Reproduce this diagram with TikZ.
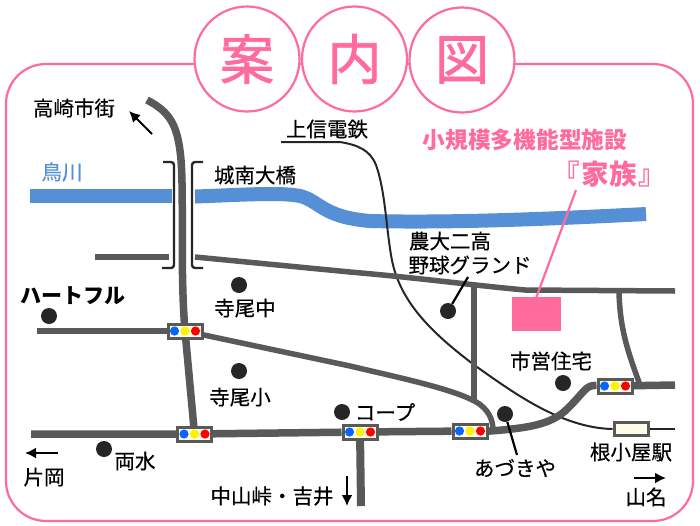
\documentclass[tikz,border=0pt]{standalone}
\usepackage{fontspec}
\setmainfont{Noto Sans CJK JP}
\newfontfamily\medf[FakeBold=0.4]{Noto Sans CJK JP}
\newfontfamily\titlef[FakeBold=1.4]{Noto Sans CJK JP}
\usetikzlibrary{arrows.meta,backgrounds}
\definecolor{pinkc}{HTML}{FF6B9D}
\definecolor{roadc}{HTML}{595959}
\definecolor{riverc}{HTML}{558FD6}
\definecolor{dotc}{HTML}{262626}
\definecolor{ivoryc}{HTML}{FFFDE8}
\tikzset{
 titlec/.style={circle,draw=pinkc,line width=2.2pt,fill=white,minimum size=105pt,inner sep=0pt,text=pinkc,font=\titlef\fontsize{54}{54}\selectfont},
 lab/.style={inner sep=0pt,text=black,font=\medf\fontsize{20.5}{20.5}\selectfont},
 road/.style={draw=roadc,line width=7.5pt,line join=round},
 sroad/.style={draw=roadc,line width=5.5pt,line join=round},
 river/.style={draw=riverc,line width=14pt},
 rail/.style={draw=dotc,line width=2pt},
 brk/.style={draw=dotc,line width=2.4pt,rounded corners=3pt},
 dotn/.style={circle,fill=dotc,minimum size=16pt,inner sep=0pt},
 sign/.style={draw=roadc,line width=3pt,fill=ivoryc,minimum width=34pt,minimum height=14pt,inner sep=0pt},
 lead/.style={draw=black,line width=2.2pt},
 arr/.style={draw=black,line width=2pt,-{Latex[length=11pt,width=11pt]}},
}
\newcommand{\lamps}[1]{%
 \fill[fill={rgb,255:red,10;green,100;blue,255}] ([xshift=-10.5pt]#1.center) circle (4.6pt);
 \fill[yellow] (#1.center) circle (4.6pt);
 \fill[red] ([xshift=10.5pt]#1.center) circle (4.6pt);}
\begin{document}
\begin{tikzpicture}[x=1pt,y=-1pt]
\useasboundingbox (0,0) rectangle (700,525);
% frame
\draw[pinkc,line width=2.2pt,rounded corners=40pt] (6,64) rectangle (693,521);
\node[titlec] (t1) at (247,59) {案};
\node[titlec] (t2) at (354.5,59) {内};
\node[titlec] (t3) at (462,60) {図};
% signals
\node[sign] (s1) at (185,331) {};
\node[sign] (s2) at (194.5,434) {};
\node[sign] (s3) at (360,432) {};
\node[sign] (s4) at (470,431) {};
\node[sign] (s5) at (615,386) {};
\node[draw=roadc,line width=3pt,fill=ivoryc,minimum width=34pt,minimum height=13pt,inner sep=0pt] (st) at (631,429) {};
\lamps{s1}\lamps{s2}\lamps{s3}\lamps{s4}\lamps{s5}
% facility
\node[fill=pinkc,minimum width=49pt,minimum height=34pt,inner sep=0pt] (fac) at (536.5,314) {};
% dots
\node[dotn] (d1) at (239,285) {};
\node[dotn] (d2) at (239,371) {};
\node[dotn] (d3) at (49,316) {};
\node[dotn] (d4) at (104,449) {};
\node[dotn] (d5) at (342,412) {};
\node[dotn] (d6) at (448,311) {};
\node[dotn] (d7) at (563,383) {};
\node[dotn] (d8) at (505,414) {};
% free ends
\coordinate (nw) at (147,100);
\coordinate (w1) at (37,331);
\coordinate (w2) at (31,434);
\coordinate (e1) at (675,385);
\coordinate (s) at (361,506);
\coordinate (stub) at (95,257);
\coordinate (stubend) at (169,257);
\coordinate (rs) at (195,257);
\coordinate (re) at (675,291);
\coordinate (j1) at (474,285);
\coordinate (j2) at (619,292);
\coordinate (railw) at (281,142);
\coordinate (raile) at (675,429);
% texts
\node[lab] (l1) at (74,108) {高崎市街};
\node[lab] (l2) at (327,129) {上信電鉄};
\node[lab,text=riverc] (l3) at (62,172) {鳥川};
\node[lab] (l4) at (255,175) {城南大橋};
\node[lab] (l5) at (245,308) {寺尾中};
\node[lab] (l6) at (240,397) {寺尾小};
\node[lab,font=\fontsize{21}{21}\selectfont\bfseries] (l7) at (73,296) {ハートフル};
\node[lab] (l8) at (135,461) {両水};
\node[lab] (l9) at (44,477) {片岡};
\node[lab] (l10) at (272,496) {中山峠・吉井};
\node[lab] (l11) at (385,412) {コープ};
\node[lab] (l12) at (450,241) {農大二高};
\node[lab] (l13) at (470,265) {野球グランド};
\node[lab] (l14) at (551,361) {市営住宅};
\node[lab] (l15) at (515,468) {あづきや};
\node[lab] (l16) at (631,452) {根小屋駅};
\node[lab] (l17) at (646,497) {山名};
\node[lab,text=pinkc,font=\fontsize{22.7}{22.7}\selectfont\bfseries] (p1) at (525,140) {小規模多機能型施設};
\node[lab,text=pinkc,font=\fontsize{27.5}{27.5}\selectfont\bfseries] (p2) at (609.5,174) {『\kern2pt家族\kern2pt』};
\coordinate (pl) at (576,190);
% arrows
\coordinate (a1s) at (152,134); \coordinate (a1e) at (129,111);
\coordinate (a2s) at (58,453); \coordinate (a2e) at (25,453);
\coordinate (a3s) at (347,476); \coordinate (a3e) at (347,506);
\coordinate (a4s) at (634,478); \coordinate (a4e) at (666,478);
\draw[arr] (a1s) -- (a1e);
\draw[arr] (a2s) -- (a2e);
\draw[arr] (a3s) -- (a3e);
\draw[arr] (a4s) -- (a4e);
\coordinate (ld6) at (468,277);
\coordinate (ld8) at (517,455);
\begin{scope}[on background layer]
% river
\path[river] (30,196) -- (172,196);
\path[river] (195,196.5) .. controls (240,195) and (280,192) .. (300,196) .. controls (320,201) and (322,217) .. (370,221) .. controls (450,223) and (550,219) .. (646,214);
% rail
\path[rail] (railw) -- (340,142) .. controls (358,145) and (370,150) .. (376,165) .. controls (385,190) and (386,225) .. (391,255) .. controls (398,300) and (430,332) .. (477,367) .. controls (510,390) and (560,428) .. (st.west);
\path[rail] (st.east) -- (raile);
% roads
\path[road] (nw) .. controls (170,112) and (178,125) .. (181,160) .. controls (184,200) and (180,270) .. (s1.center) -- (s2.center);
\path[sroad] (stub) -- (stubend);
\path[sroad] (rs) -- (350,272) .. controls (420,278) and (470,285) .. (525,290) -- (re);
\path[sroad] (j1) -- (474,400);
\path[sroad] (j2) .. controls (620,330) and (628,352) .. (640,385);
\path[sroad] (w1) -- (s1);
\path[sroad] (s1) -- (350,366) .. controls (400,378) and (470,392) .. (484,408) .. controls (492,416) and (493,425) .. (493,431);
\path[road] (w2) -- (s2) -- (s3) -- (s4);
\path[road] (s4) -- (490,431) .. controls (530,428) and (550,424) .. (565,411) .. controls (585,392) and (585,385) .. (s5) -- (e1);
\path[road,line width=8pt] (s3) -- (s);
\end{scope}
% brackets
\path[brk] (163,162) -- (174,162) -- (174,268) -- (162,268);
\path[brk] (203,162) -- (192,162) -- (192,268) -- (203,268);
\path[lead] (d6) -- (ld6);
\path[lead] (d8) -- (ld8);
\path[draw=pinkc,line width=2.2pt] (pl) -- (fac.north);
\end{tikzpicture}
\end{document}
